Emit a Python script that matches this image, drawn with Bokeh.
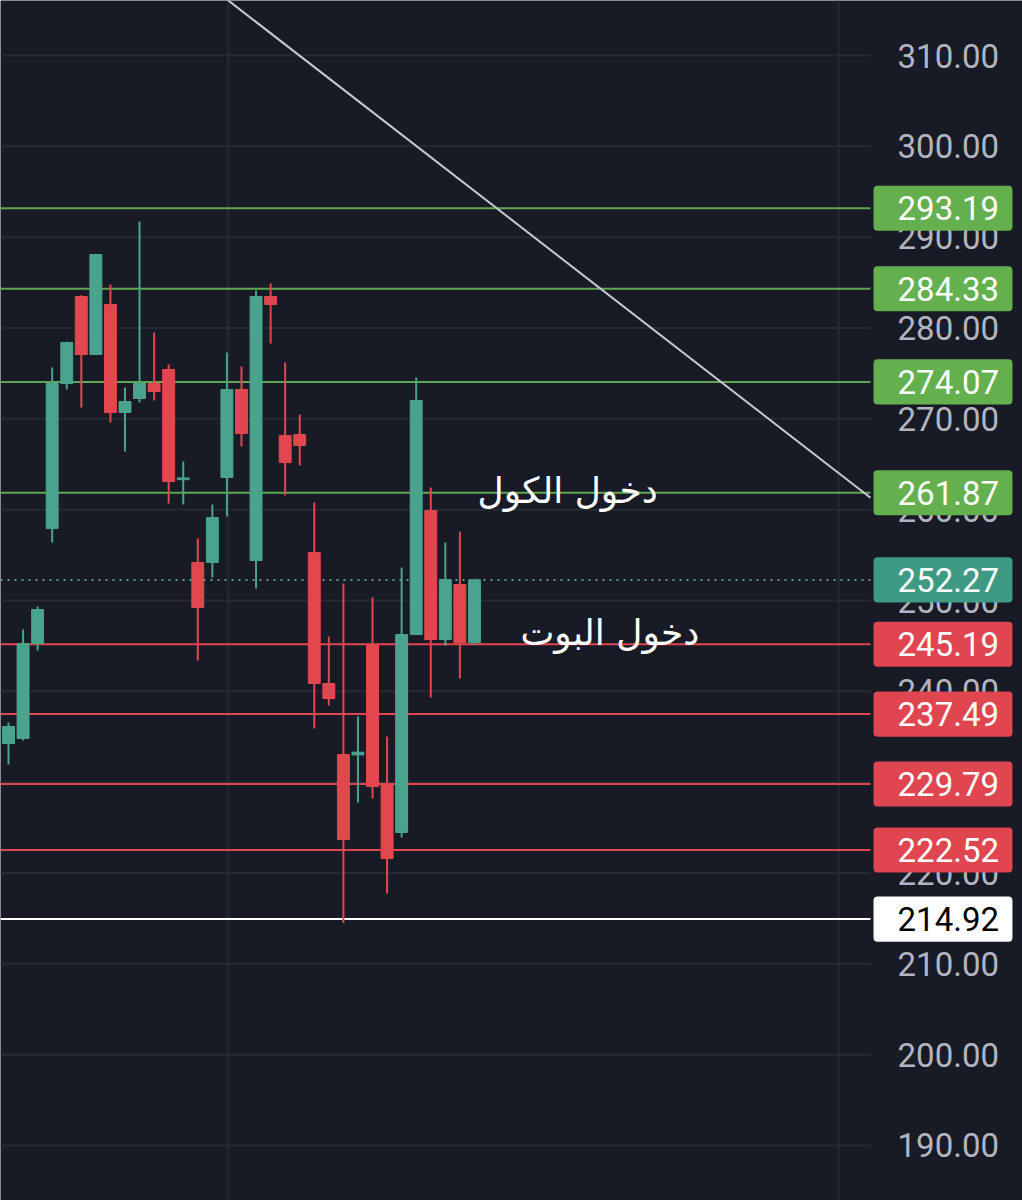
from bokeh.plotting import figure
from bokeh.models import Range1d, Span, ColumnDataSource
from bokeh.embed import file_html
from bokeh.resources import INLINE
from bokeh.core.properties import value

# ---------------- data ----------------
opens  = [234.25, 234.80, 245.26, 257.92, 273.89, 283.47, 277.08, 282.59, 270.70, 272.24,
          273.89, 275.43, 263.30, 254.18, 254.18, 263.54, 273.23, 254.40, 283.47, 268.16,
          268.27, 255.28, 240.86, 233.04, 233.00, 245.15, 229.74, 224.46, 246.25, 259.91,
          245.70, 251.76, 245.37]
highs  = [236.57, 246.80, 249.34, 275.65, 278.51, 283.60, 288.09, 284.79, 273.45, 291.72,
          279.50, 275.98, 265.30, 256.82, 260.57, 277.30, 275.76, 284.13, 284.90, 276.20,
          270.48, 260.79, 246.03, 251.87, 237.23, 250.33, 235.02, 253.63, 274.55, 262.44,
          256.38, 257.59, 252.40]
lows   = [231.94, 234.58, 244.49, 256.38, 273.23, 271.25, 277.08, 269.59, 266.40, 271.80,
          272.02, 260.68, 260.57, 243.39, 252.53, 259.25, 266.95, 251.32, 278.29, 261.56,
          264.86, 235.91, 238.44, 214.50, 227.76, 228.20, 217.74, 223.90, 246.25, 239.32,
          245.04, 241.41, 245.15]
closes = [236.13, 245.26, 249.01, 273.89, 278.40, 277.08, 288.09, 270.70, 271.91, 273.89,
          273.01, 263.10, 263.50, 249.23, 259.14, 273.23, 268.38, 283.47, 282.59, 265.19,
          267.06, 240.86, 239.21, 223.68, 233.30, 229.52, 221.59, 246.25, 272.02, 245.70,
          252.31, 245.37, 252.27]

green_levels = [293.19, 284.33, 274.07, 261.87]
red_levels = [245.19, 237.49, 229.79, 222.52]
white_level = 214.92
last_price = 252.27

price_ticks = [190, 200, 210, 220, 230, 240, 250, 260, 270, 280, 290, 300, 310]
time_grid = [15.1, 57.0]

trend_x = [15.0, 59.2]
trend_y = [316.18, 261.32]

notes = ["دخول الكول", "دخول البوت"]
notes_x = [38.4, 41.3]
notes_y = [262.1, 246.5]

# ---------------- layout (data units of the bar index / price scale) ----------------
X_LEFT = -0.55      # left edge of the chart
X_EDGE = 59.2       # where the chart pane ends and the price scale begins
X_RIGHT = 69.64     # right edge of the page
X_TEXT = 61.06      # start of price scale texts
BOX_L, BOX_R = 59.41, 68.95   # price box left / right
BOX_HALF = 2.48     # half height of price box (price units)

# ---------------- style ----------------
BG = "#181b26"
GRID = "#262a35"
UP = "#4aa38c"
DOWN = "#e2474f"
LVL_GREEN_LINE = "#5fa851"
LVL_GREEN_BOX = "#64b04f"
LVL_RED = "#e0464f"
LAST_BOX = "#3f9a84"
AXIS_TXT = "#b2b5be"
FONT = "Roboto"
FSIZE = "33px"

p = figure(width=1022, height=1200, output_backend="svg", toolbar_location=None,
           x_axis_location=None, y_axis_location=None,
           x_range=Range1d(X_LEFT, X_RIGHT), y_range=Range1d(183.94, 316.06),
           min_border=0)
p.background_fill_color = BG
p.border_fill_color = BG
p.outline_line_color = None
for g in p.grid:
    g.visible = False

# grid
nt = len(price_ticks)
p.segment(x0=[X_LEFT] * nt, x1=[X_EDGE] * nt, y0=price_ticks, y1=price_ticks,
          line_color=GRID, line_width=2)
for t in time_grid:
    p.add_layout(Span(location=t, dimension="height", line_color=GRID, line_width=2,
                      level="underlay"))

# level lines
lv_all = green_levels + red_levels + [white_level]
lv_col = [LVL_GREEN_LINE] * len(green_levels) + [LVL_RED] * len(red_levels) + ["#ffffff"]
nl = len(lv_all)
p.segment(x0=[X_LEFT] * nl, x1=[X_EDGE] * nl, y0=lv_all, y1=lv_all,
          line_color=lv_col, line_width=2)
p.segment(x0=[X_LEFT], x1=[X_EDGE], y0=[last_price], y1=[last_price],
          line_color="#5a9a90", line_width=2, line_dash="2 5")

# candles
n = len(opens)
idx = list(range(n))
colors = [UP if c >= o else DOWN for o, c in zip(opens, closes)]
top = [max(o, c) for o, c in zip(opens, closes)]
bot = [min(o, c) for o, c in zip(opens, closes)]
src = ColumnDataSource(dict(x=idx, o=opens, h=highs, l=lows, c=closes,
                            top=top, bot=bot, color=colors))
p.segment(x0="x", x1="x", y0="l", y1="h", source=src, line_color="color", line_width=2)
p.vbar(x="x", top="top", bottom="bot", width=0.82, source=src,
       fill_color="color", line_color="color", line_width=1)

# trend line
p.line(trend_x, trend_y, line_color="#c8cad2", line_width=2)

# notes
p.text(x=notes_x, y=notes_y, text=notes, text_color="#ffffff",
       text_font=value("DejaVu Sans"), text_font_size="36px",
       text_align="center", text_baseline="middle")

# price scale tick labels
p.text(x=[X_TEXT] * nt, y=price_ticks, text=[f"{t:.2f}" for t in price_ticks],
       text_color=AXIS_TXT, text_font=value(FONT), text_font_size=FSIZE,
       text_align="left", text_baseline="middle")

# price boxes
box_levels = green_levels + [last_price] + red_levels + [white_level]
box_fill = ([LVL_GREEN_BOX] * len(green_levels) + [LAST_BOX] +
            [LVL_RED] * len(red_levels) + ["#ffffff"])
box_txt = ["#ffffff"] * (len(box_levels) - 1) + ["#000000"]
nb = len(box_levels)
box_src = ColumnDataSource(dict(
    left=[BOX_L] * nb, right=[BOX_R] * nb,
    top=[v + BOX_HALF for v in box_levels], bottom=[v - BOX_HALF for v in box_levels],
    fill=box_fill))
try:
    p.quad(left="left", right="right", top="top", bottom="bottom", source=box_src,
           fill_color="fill", line_color=None, border_radius=4)
except Exception:
    p.quad(left="left", right="right", top="top", bottom="bottom", source=box_src,
           fill_color="fill", line_color=None)
p.text(x=[X_TEXT] * nb, y=box_levels, text=[f"{v:.2f}" for v in box_levels],
       text_color=box_txt, text_font=value(FONT), text_font_size=FSIZE,
       text_align="left", text_baseline="middle")

open("out.html", "w").write(file_html(p, INLINE))
